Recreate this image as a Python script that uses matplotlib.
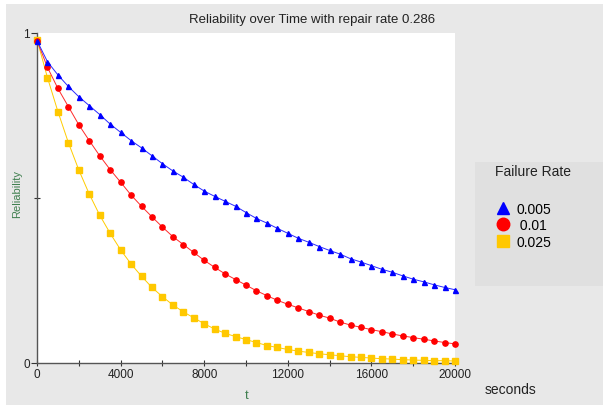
import matplotlib
matplotlib.use('Agg')
import matplotlib.pyplot as plt
from matplotlib.lines import Line2D
from matplotlib.patches import Rectangle
import numpy as np

plt.rcParams['font.family'] = ['Liberation Sans', 'DejaVu Sans']

# time in seconds, one point every 500 s
t = list(range(0, 20001, 500))

rel_005 = [0.977, 0.913, 0.873, 0.838, 0.807, 0.780, 0.753, 0.724, 0.699, 0.674,
           0.652, 0.628, 0.604, 0.582, 0.563, 0.541, 0.521, 0.505, 0.490, 0.475,
           0.456, 0.438, 0.424, 0.408, 0.393, 0.378, 0.366, 0.353, 0.341, 0.330,
           0.316, 0.306, 0.295, 0.284, 0.275, 0.264, 0.254, 0.246, 0.237, 0.229,
           0.222]
rel_01 = [0.977, 0.896, 0.832, 0.777, 0.722, 0.674, 0.628, 0.586, 0.548, 0.509,
          0.475, 0.443, 0.412, 0.383, 0.359, 0.335, 0.311, 0.290, 0.270, 0.253,
          0.236, 0.219, 0.204, 0.190, 0.178, 0.167, 0.156, 0.145, 0.136, 0.124,
          0.115, 0.108, 0.101, 0.095, 0.088, 0.082, 0.077, 0.072, 0.067, 0.062,
          0.058]
rel_025 = [0.980, 0.865, 0.762, 0.668, 0.585, 0.512, 0.448, 0.393, 0.343, 0.300,
           0.263, 0.229, 0.201, 0.176, 0.155, 0.137, 0.119, 0.103, 0.090, 0.080,
           0.071, 0.062, 0.053, 0.047, 0.041, 0.036, 0.032, 0.028, 0.025, 0.022,
           0.019, 0.017, 0.015, 0.013, 0.012, 0.010, 0.009, 0.008, 0.007, 0.007,
           0.006]

series_labels = ['0.005', ' 0.01', '0.025']
xticks_major = [0, 4000, 8000, 12000, 16000, 20000]
xticks_minor = [2000, 6000, 10000, 14000, 18000]

bg = '#e8e8e8'
green = '#3f7f4f'

fig = plt.figure(figsize=(6.03, 4.06), dpi=100)
fig.patch.set_facecolor('white')
# gray panel (white strip on top and left)
fig.patches.append(Rectangle((6/603., 0), 1, 1 - 5/406., transform=fig.transFigure,
                             facecolor=bg, edgecolor='none', zorder=-10))

ax = fig.add_axes([37/603., 42/406., 418/603., 330/406.])
ax.set_facecolor('white')

ax.plot(t, rel_005, color='#2a2aff', lw=0.7, marker='^', ms=3.6, mec='#0000ff',
        mfc='#0000ff', clip_on=False, zorder=5)
ax.plot(t, rel_01, color='#ff2a2a', lw=0.7, marker='o', ms=3.8, mec='#ff0000',
        mfc='#ff0000', clip_on=False, zorder=4)
ax.plot(t, rel_025, color='#ffcc00', lw=0.7, marker='s', ms=4.0, mec='#ffc800',
        mfc='#ffc800', clip_on=False, zorder=3)

ax.set_xlim(0, 20000)
ax.set_ylim(0, 1)
for s in ['top', 'right']:
    ax.spines[s].set_visible(False)
for s in ['left', 'bottom']:
    ax.spines[s].set_color('#555555')
    ax.spines[s].set_linewidth(1.0)

ax.set_xticks(xticks_major)
ax.set_xticks(xticks_minor, minor=True)
ax.set_yticks([0, 1])
ax.set_yticklabels(['0', '1'])
ax.set_yticks([0.5], minor=True)
ax.tick_params(axis='both', which='both', direction='inout', length=5, width=0.8,
               color='#333333', labelsize=8.5, labelcolor='#222222', pad=1)
ax.tick_params(axis='y', which='major', length=4, direction='out', pad=1)

fig.text(312/603., 1 - 20/406., 'Reliability over Time with repair rate 0.286',
         fontsize=9.5, color='#222222', ha='center', va='center')

fig.text(247/603., 1 - 396/406., 't', color=green, fontsize=9.5, ha='center', va='center')
fig.text(17/603., 1 - 194/406., 'Reliability', color=green, fontsize=8,
         rotation=90, ha='center', va='center')
fig.text(511/603., 1 - 390/406., 'seconds', color='#222222', fontsize=10,
         ha='center', va='center')

# legend box
fig.patches.append(Rectangle((475/603., 1 - 287/406.), 130/603., 124/406.,
                             transform=fig.transFigure, facecolor='#e0e0e0',
                             edgecolor='none', zorder=-5))
handles = [Line2D([], [], ls='none', marker='^', ms=9, color='#0000ff'),
           Line2D([], [], ls='none', marker='o', ms=9, color='#ff0000'),
           Line2D([], [], ls='none', marker='s', ms=9, color='#ffc800')]
leg = fig.legend(handles, series_labels, loc='upper left',
                 bbox_to_anchor=(490/603., 1 - 197/406.), frameon=False,
                 fontsize=10, handlelength=1.0, handletextpad=0.5,
                 labelspacing=0.2, borderaxespad=0)
fig.text(533/603., 1 - 172/406., 'Failure Rate', fontsize=10, color='#222222',
         ha='center', va='center')

fig.savefig('out.png', dpi=100, facecolor=fig.get_facecolor())
